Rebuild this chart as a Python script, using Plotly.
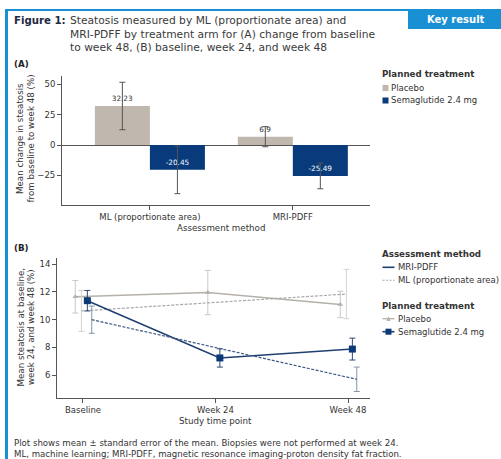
import plotly.graph_objects as go

# ---------------- data ----------------
methods = ["ML (proportionate area)", "MRI-PDFF"]
placebo_change = [32.23, 6.9]
placebo_change_se = [19.6, 8.3]
sema_change = [-20.45, -25.49]
sema_change_se = [19.7, 10.6]

timepoints = ["Baseline", "Week 24", "Week 48"]
placebo_mri = [11.65, 11.96, 11.1]
placebo_mri_se = [1.17, 1.6, 0.95]
placebo_ml = [10.63, None, 11.85]
placebo_ml_se = [1.47, None, 1.78]
sema_mri = [11.37, 7.24, 7.88]
sema_mri_se = [0.74, 0.66, 0.79]
sema_ml = [10.0, None, 5.7]
sema_ml_se = [0.98, None, 0.88]

ya_ticks = [-25, 0, 25, 50]
yb_ticks = [6, 8, 10, 12, 14]

# ---------------- styles ----------------
W, H = 501, 459
FONT = "DejaVu Sans"
TXT = "#333333"
BLUE = "#1a90d4"
C_PLA_BAR = "#c0b8ae"
C_SEM_BAR = "#083a7c"
C_PLA = "#b5b0aa"
C_PLA_ML = "#a8a8a8"
C_SEM = "#1f3f70"
C_SEM_MK = "#0a3a78"
C_SEM_ML = "#3d5a85"
DASH = "3px,1.5px"
TICK = 8.5
LAB = 8.7


def px(x):
    return x / W


def py(y):
    return 1 - y / H


fig = go.Figure()

# ---------------- panel A ----------------
fig.add_trace(go.Bar(
    x=methods, y=placebo_change, name="Placebo", showlegend=False,
    marker=dict(color=C_PLA_BAR, line=dict(width=0)),
    error_y=dict(type="data", array=placebo_change_se, color="#555555", thickness=1, width=3),
    text=[str(v) for v in placebo_change], textposition="outside",
    textangle=0, outsidetextfont=dict(size=7.3, color=TXT), cliponaxis=False,
    xaxis="x", yaxis="y",
))
fig.add_trace(go.Bar(
    x=methods, y=sema_change, name="Semaglutide 2.4 mg", showlegend=False,
    marker=dict(color=C_SEM_BAR, line=dict(width=0)),
    error_y=dict(type="data", array=sema_change_se, color="#555555", thickness=1, width=3),
    text=[str(v) for v in sema_change], textposition="auto", insidetextanchor="end",
    textangle=0, insidetextfont=dict(size=7.3, color="white"),
    outsidetextfont=dict(size=7.3, color=TXT), cliponaxis=False,
    xaxis="x", yaxis="y",
))

# ---------------- panel B ----------------
def shifted(off):
    return [i + off for i in range(len(timepoints))]


fig.add_trace(go.Scatter(
    x=shifted(-0.058), y=placebo_mri, mode="lines+markers", name="Placebo MRI-PDFF",
    line=dict(color=C_PLA, width=1.5),
    marker=dict(symbol="triangle-up", size=5, color=C_PLA),
    error_y=dict(type="data", array=placebo_mri_se, color="#c8c8c8", thickness=1, width=3),
    showlegend=False, xaxis="x2", yaxis="y2",
))
fig.add_trace(go.Scatter(
    x=shifted(-0.012), y=placebo_ml, mode="lines", connectgaps=True, name="Placebo ML",
    line=dict(color=C_PLA_ML, width=1.2, dash=DASH),
    error_y=dict(type="data", array=placebo_ml_se, color="#d2d2d2", thickness=1, width=3),
    showlegend=False, xaxis="x2", yaxis="y2",
))
fig.add_trace(go.Scatter(
    x=shifted(0.033), y=sema_mri, mode="lines+markers", name="Semaglutide MRI-PDFF",
    line=dict(color=C_SEM, width=1.6),
    marker=dict(symbol="square", size=7, color=C_SEM_MK),
    error_y=dict(type="data", array=sema_mri_se, color="#2f4872", thickness=1, width=3),
    showlegend=False, xaxis="x2", yaxis="y2",
))
fig.add_trace(go.Scatter(
    x=shifted(0.066), y=sema_ml, mode="lines", connectgaps=True, name="Semaglutide ML",
    line=dict(color=C_SEM_ML, width=1.2, dash=DASH),
    error_y=dict(type="data", array=sema_ml_se, color="#8696ae", thickness=1, width=3),
    showlegend=False, xaxis="x2", yaxis="y2",
))

axis_common = dict(
    showline=True, linecolor="#555555", linewidth=1, ticks="outside", ticklen=4,
    tickcolor="#555555", tickfont=dict(size=TICK, color=TXT, family=FONT), showgrid=False,
)

fig.update_layout(
    width=W, height=H, margin=dict(l=0, r=0, t=0, b=0),
    paper_bgcolor="white", plot_bgcolor="white",
    font=dict(family=FONT, size=8, color=TXT),
    barmode="group", bargap=0.23, bargroupgap=0,
    xaxis=dict(axis_common, domain=[px(62), px(370)], type="category",
               range=[-0.615, 1.54], anchor="y", zeroline=False),
    yaxis=dict(axis_common, domain=[py(205), py(76)], range=[-49.5, 57],
               tickvals=ya_ticks, anchor="x", zeroline=True, zerolinecolor="#555555",
               zerolinewidth=1),
    xaxis2=dict(axis_common, domain=[px(57), px(370)], range=[-0.196, 2.166],
                tickvals=list(range(len(timepoints))), ticktext=timepoints,
                anchor="y2", zeroline=False),
    yaxis2=dict(axis_common, domain=[py(398), py(258)], range=[4.35, 14.45],
                tickvals=yb_ticks, anchor="x2", zeroline=False),
    showlegend=False,
)

# ---------------- frame ----------------
fig.add_shape(type="rect", xref="paper", yref="paper", x0=px(5), x1=px(8), y0=0, y1=py(9),
              fillcolor=BLUE, line=dict(width=0))
fig.add_shape(type="line", xref="paper", yref="paper", x0=px(5), x1=px(410), y0=py(10), y1=py(10),
              line=dict(color=BLUE, width=2))
fig.add_shape(type="rect", xref="paper", yref="paper", x0=px(408), x1=1, y0=py(29), y1=py(9),
              fillcolor=BLUE, line=dict(width=0))

# ---------------- legends (drawn keys) ----------------
def key_text(x, y, text, bold=False, size=8.5):
    fig.add_annotation(xref="paper", yref="paper", showarrow=False, x=px(x), y=py(y),
                       text=f"<b>{text}</b>" if bold else text, xanchor="left", yanchor="middle",
                       font=dict(size=size, color=TXT))


def key_line(y, color, width, dash="solid"):
    fig.add_shape(type="line", xref="paper", yref="paper", x0=px(382.5), x1=px(394.5),
                  y0=py(y), y1=py(y), line=dict(color=color, width=width, dash=dash))


# legend A
key_text(380, 74, "Planned treatment", bold=True, size=8.7)
fig.add_shape(type="rect", xref="paper", yref="paper", x0=px(382.5), x1=px(388.5),
              y0=py(91), y1=py(85), fillcolor=C_PLA_BAR, line=dict(width=0))
key_text(389, 87.7, "Placebo")
fig.add_shape(type="rect", xref="paper", yref="paper", x0=px(382.5), x1=px(388.5),
              y0=py(103.5), y1=py(97.5), fillcolor=C_SEM_BAR, line=dict(width=0))
key_text(389, 100.3, "Semaglutide 2.4 mg")

# legend B
key_text(380, 254, "Assessment method", bold=True, size=8.7)
key_line(267.3, C_SEM, 1.6)
key_text(396, 267.3, "MRI-PDFF")
key_line(280.3, C_PLA_ML, 1.1, "2px,1.5px")
key_text(396, 280.3, "ML (proportionate area)")
key_text(380, 306, "Planned treatment", bold=True, size=8.7)
key_line(318.7, C_PLA, 1.3)
fig.add_shape(type="path", xref="paper", yref="paper",
              path=f"M {px(386.5)} {py(321)} L {px(390.5)} {py(321)} L {px(388.5)} {py(316.3)} Z",
              fillcolor=C_PLA, line=dict(width=0))
key_text(396, 318.7, "Placebo")
key_line(331.7, C_SEM, 1.6)
fig.add_shape(type="rect", xref="paper", yref="paper", x0=px(385.5), x1=px(391.5),
              y0=py(334.7), y1=py(328.7), fillcolor=C_SEM_MK, line=dict(width=0))
key_text(396, 331.7, "Semaglutide 2.4 mg")

# ---------------- title, labels, notes ----------------
TS = 10.7
ann = [
    dict(x=px(456), y=py(19), text="<b>Key result</b>", font=dict(size=10, color="white"),
         xanchor="center", yanchor="middle"),
    dict(x=px(12), y=py(21), text="<b>Figure 1:</b>", font=dict(size=10.2, color="#1e2a45"),
         xanchor="left", yanchor="middle"),
    dict(x=px(68), y=py(21), text="Steatosis measured by ML (proportionate area) and",
         font=dict(size=TS, color="#3a3a3a"), xanchor="left", yanchor="middle"),
    dict(x=px(68), y=py(34.5), text="MRI-PDFF by treatment arm for (A) change from baseline",
         font=dict(size=TS, color="#3a3a3a"), xanchor="left", yanchor="middle"),
    dict(x=px(68), y=py(48), text="to week 48, (B) baseline, week 24, and week 48",
         font=dict(size=TS, color="#3a3a3a"), xanchor="left", yanchor="middle"),
    dict(x=px(12), y=py(64), text="<b>(A)</b>", font=dict(size=8.7, color="#222"),
         xanchor="left", yanchor="middle"),
    dict(x=px(12), y=py(248), text="<b>(B)</b>", font=dict(size=8.7, color="#222"),
         xanchor="left", yanchor="middle"),
    dict(x=px(20), y=py(139), text="Mean change in steatosis",
         textangle=-90, font=dict(size=LAB, color=TXT), xanchor="center", yanchor="middle"),
    dict(x=px(30.5), y=py(139), text="from baseline to week 48 (%)",
         textangle=-90, font=dict(size=LAB, color=TXT), xanchor="center", yanchor="middle"),
    dict(x=px(20.5), y=py(327), text="Mean steatosis at baseline,",
         textangle=-90, font=dict(size=LAB, color=TXT), xanchor="center", yanchor="middle"),
    dict(x=px(31), y=py(327), text="week 24, and week 48 (%)",
         textangle=-90, font=dict(size=LAB, color=TXT), xanchor="center", yanchor="middle"),
    dict(x=px(221), y=py(228), text="Assessment method", font=dict(size=LAB, color=TXT),
         xanchor="center", yanchor="middle"),
    dict(x=px(215), y=py(421), text="Study time point", font=dict(size=LAB, color=TXT),
         xanchor="center", yanchor="middle"),
    dict(x=px(12), y=py(443),
         text="Plot shows mean \u00b1 standard error of the mean. Biopsies were not performed at week 24.",
         font=dict(size=8.6, color=TXT), xanchor="left", yanchor="middle"),
    dict(x=px(12), y=py(453.5),
         text="ML, machine learning; MRI-PDFF, magnetic resonance imaging-proton density fat fraction.",
         font=dict(size=8.6, color=TXT), xanchor="left", yanchor="middle"),
]
for a in ann:
    fig.add_annotation(xref="paper", yref="paper", showarrow=False, **a)

fig.write_html("out.html", config={"displayModeBar": False},
               post_script="document.body.style.margin='0';document.body.style.padding='0';")
